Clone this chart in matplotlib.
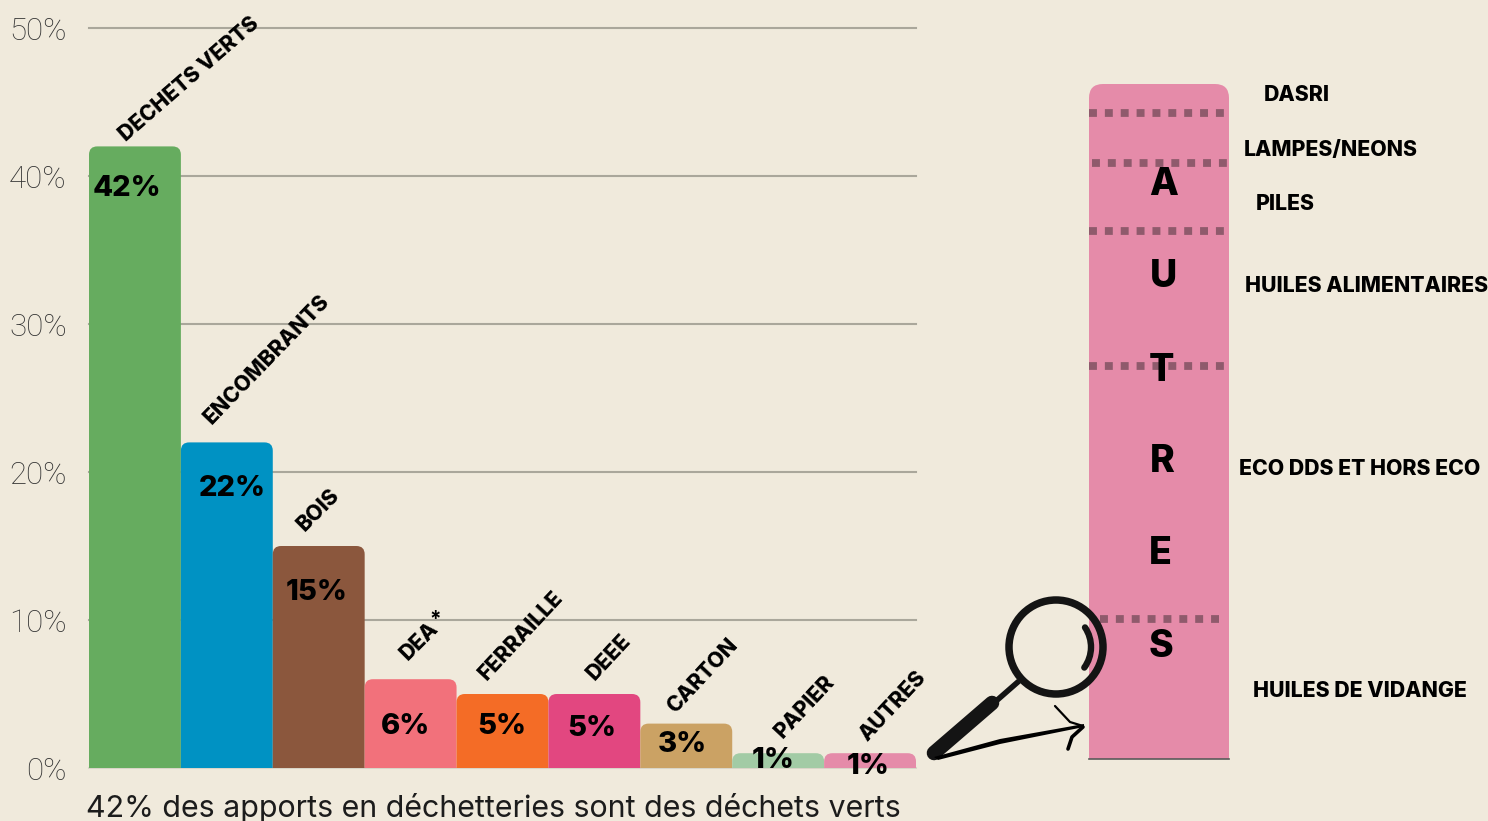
import numpy as np
import matplotlib
matplotlib.use("Agg")
import matplotlib.pyplot as plt
from matplotlib.patches import FancyBboxPatch, Circle, Arc, Polygon

plt.rcParams['font.family'] = ['Inter', 'DejaVu Sans']

# main chart
categories = ["DECHETS VERTS", "ENCOMBRANTS", "BOIS", "DEA", "FERRAILLE",
              "DEEE", "CARTON", "PAPIER", "AUTRES"]
values = [42, 22, 15, 6, 5, 5, 3, 1, 1]
bar_colors = ["#66AC5F", "#0092C3", "#8B573D", "#F2717B", "#F46C26",
              "#E24780", "#CBA264", "#A2CBA5", "#E58BA9"]
yticks = [0, 10, 20, 30, 40, 50]

# breakdown of AUTRES, bottom to top (share of the column)
autres_labels = ["HUILES DE VIDANGE", "ECO DDS ET HORS ECO", "HUILES ALIMENTAIRES",
                 "PILES", "LAMPES/NEONS", "DASRI"]
autres_shares = [20.7, 37.5, 20.0, 10.1, 7.4, 4.3]

title = "42% des apports en déchetteries sont des déchets verts"

BG = "#F0EADC"
PINK = "#E58BA9"
W, H = 1488, 821

# label placement, pixels
name_pos = [(189, 79, 41), (267, 359, 46), (318, 510, 45), (419, 641, 45), (521, 635, 47),
            (609, 657, 47), (703, 676, 47), (805, 707, 47), (893, 706, 47)]
value_pos = [(127, 188), (232, 488), (317, 592), (405, 727), (502, 727),
             (592, 729), (682, 745), (773, 761), (868, 766)]
side_pos = [(1253, 691), (1239, 469), (1245, 286), (1256, 204), (1244, 150), (1264, 95)]
letter_pos = [(1164, 185), (1163, 277), (1161, 371), (1162, 462), (1160, 554), (1161, 647)]
dash_spans = [(0.08, 0.955), (0.003, 0.985), (0.003, 0.985), (0.02, 0.985), (0.003, 0.985)]


def px_axes(fig, x0, y0, x1, y1):
    return fig.add_axes([x0 / W, 1 - y1 / H, (x1 - x0) / W, (y1 - y0) / H])


fig = plt.figure(figsize=(W / 100, H / 100), dpi=100, facecolor=BG)

# ---------- bars ----------
ax = px_axes(fig, 89, 28, 916, 768)
ax.set_facecolor("none")
ax.set_xlim(-0.5, len(values) - 0.5)
ax.set_ylim(0, 50)
aspect = (827 / len(values)) / 14.8
for i, v in enumerate(values):
    ax.add_patch(FancyBboxPatch((i - 0.5, -3), 1, v + 3,
                                boxstyle="round,pad=0,rounding_size=0.09",
                                mutation_aspect=aspect, fc=bar_colors[i], ec="none", zorder=3))
for t in yticks:
    ax.axhline(t, color="#AAA79B" if t else "#D9D5C8", lw=1.5, zorder=1, clip_on=False)
ax.set_xticks([])
ax.set_yticks(yticks)
ax.set_yticklabels([f"{t}%" for t in yticks], fontsize=22.5, color="#333333",
                   fontfamily=["Roboto", "DejaVu Sans"], fontweight="light")
ax.tick_params(axis="y", length=0, pad=16)
for s in ax.spines.values():
    s.set_visible(False)

# ---------- AUTRES column ----------
ax2 = px_axes(fig, 1089, 84, 1229, 759)
ax2.set_facecolor("none")
ax2.set_xlim(0, 1)
ax2.set_ylim(0, sum(autres_shares))
ax2.axis("off")
aspect2 = 140 / (675 / sum(autres_shares))
ax2.add_patch(FancyBboxPatch((0, -10), 1, sum(autres_shares) + 10,
                             boxstyle="round,pad=0,rounding_size=0.1",
                             mutation_aspect=aspect2, fc=PINK, ec="none"))
ax2.axhline(0, color="#5A5A5A", lw=1.2, clip_on=False)
for c, (x0, x1) in zip(np.cumsum(autres_shares)[:-1], dash_spans):
    ax2.plot([x0, x1], [c, c], color="#8F5A6C", lw=5.6,
             linestyle=(0, (1.02, 1.02)), dash_capstyle="butt", zorder=4)

# ---------- overlay in pixels: texts and magnifier ----------
ov = fig.add_axes([0, 0, 1, 1])
ov.set_xlim(0, W)
ov.set_ylim(H, 0)
ov.axis("off")
ov.set_facecolor("none")

for name, (x, y, rot) in zip(categories, name_pos):
    ov.text(x, y, name, rotation=rot, rotation_mode="anchor", ha="center", va="center",
            fontsize=15.3, fontweight="heavy", color="black")
ov.text(435, 620, "*", ha="center", va="center", fontsize=15, fontweight="bold", color="black")

for v, (x, y) in zip(values, value_pos):
    ov.text(x, y, f"{v}%", ha="center", va="center", fontsize=21,
            fontweight="heavy", color="black")

for name, (x, y) in zip(autres_labels, side_pos):
    ov.text(x, y, name, ha="left", va="center", fontsize=15.3, fontweight="heavy", color="black")

for ch, (x, y) in zip("AUTRES", letter_pos):
    ov.text(x, y, ch, ha="center", va="center", fontsize=27, fontweight="heavy", color="black")

ov.text(86, 808, title, ha="left", va="center", fontsize=21.9, color="#1C1C1C", clip_on=False)

DARK = "#141414"
ov.add_patch(Circle((1056, 647), 47, fc="none", ec=DARK, lw=5.4, zorder=6))
ov.add_patch(Arc((1056, 647), 70, 70, theta1=-34, theta2=36, ec=DARK, lw=4.6,
                 capstyle="round", zorder=6))
ov.plot([1019, 995], [681, 702], color=DARK, lw=4, solid_capstyle="butt", zorder=6)
ov.plot([992, 934], [703, 753], color=DARK, lw=10.5, solid_capstyle="round", zorder=6)
ov.add_patch(Polygon([(934, 757), (1000, 739), (1084, 724), (1084, 727), (1000, 744), (938, 760)],
                     fc="black", ec="none", zorder=7))
ov.plot([1055, 1070, 1083], [706, 722, 726], color="black", lw=1.6, zorder=7, solid_capstyle="round")
ov.plot([1083, 1072, 1068], [727, 737, 749], color="black", lw=2.6, zorder=7, solid_capstyle="round")

fig.savefig("out.png", dpi=100, facecolor=BG)
